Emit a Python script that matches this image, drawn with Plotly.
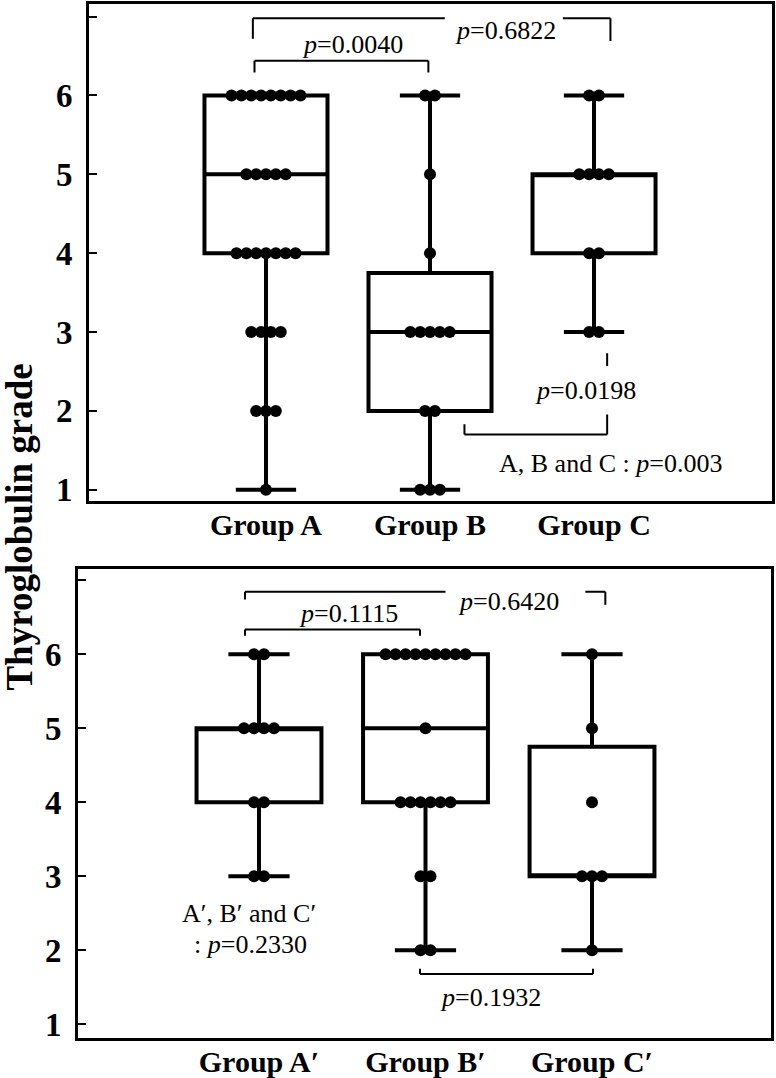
import plotly.graph_objects as go

# ---------------- data ----------------
groups_top = ["Group A", "Group B", "Group C"]
groups_bot = ["Group A′", "Group B′", "Group C′"]
grades = [6, 5, 4, 3, 2, 1]

# number of patients at each grade (order follows `grades`)
counts_top = [
    [8, 5, 7, 4, 3, 1],   # Group A
    [2, 1, 1, 5, 2, 3],   # Group B
    [2, 4, 2, 2, 0, 0],   # Group C
]
counts_bot = [
    [2, 4, 2, 2, 0, 0],   # Group A'
    [9, 1, 6, 2, 2, 0],   # Group B'
    [1, 1, 1, 3, 1, 0],   # Group C'
]

# box statistics
q1_top = [4, 2, 4]
med_top = [5, 3, 5]
q3_top = [6, 3.75, 5]
lo_top = [1, 1, 3]
hi_top = [6, 6, 6]

q1_bot = [4, 4, 3]
med_bot = [5, 5, 3]
q3_bot = [5, 6, 4.75]
lo_bot = [3, 2, 2]
hi_bot = [6, 6, 6]

p_top = ["0.0040", "0.6822", "0.0198", "0.003"]
p_bot = ["0.1115", "0.6420", "0.1932", "0.2330"]

# ---------------- figure ----------------
FONT = "Liberation Serif"
W, H = 776, 1078
fig = go.Figure()

DOT_STEP = 0.06


def add_panel(counts, q1, med, q3, lo, hi, xa, ya):
    for i in range(3):
        fig.add_trace(go.Box(
            x=[i], q1=[q1[i]], median=[med[i]], q3=[q3[i]],
            lowerfence=[lo[i]], upperfence=[hi[i]],
            width=0.75, whiskerwidth=0.49,
            line=dict(color="black", width=4),
            fillcolor="rgba(0,0,0,0)", boxpoints=False,
            showlegend=False, xaxis=xa, yaxis=ya, hoverinfo="skip"))
    xs, ys = [], []
    for i in range(3):
        for g, c in zip(grades, counts[i]):
            for j in range(c):
                xs.append(i + (j - (c - 1) / 2) * DOT_STEP)
                ys.append(g)
    fig.add_trace(go.Scatter(
        x=xs, y=ys, mode="markers",
        marker=dict(color="black", size=12, line=dict(width=0)),
        showlegend=False, xaxis=xa, yaxis=ya, hoverinfo="skip"))


add_panel(counts_top, q1_top, med_top, q3_top, lo_top, hi_top, "x", "y")
add_panel(counts_bot, q1_bot, med_bot, q3_bot, lo_bot, hi_bot, "x2", "y2")

yaxis_common = dict(
    tickvals=[1, 2, 3, 4, 5, 6, 7], ticktext=["1", "2", "3", "4", "5", "6", ""],
    ticks="inside", ticklen=8, tickwidth=2, tickcolor="black",
    showline=True, mirror=True, linewidth=3, linecolor="black",
    showgrid=False, zeroline=False, ticklabelstandoff=7,
    tickfont=dict(family=FONT, size=33, color="black", weight="bold"),
)
xaxis_common = dict(
    tickvals=[0, 1, 2], ticks="",
    showline=True, mirror=True, linewidth=3, linecolor="black",
    showgrid=False, zeroline=False, ticklabelstandoff=-5,
    tickfont=dict(family=FONT, size=30, color="black", weight="bold"),
)

fig.update_layout(
    width=W, height=H, margin=dict(l=0, r=0, t=0, b=0),
    paper_bgcolor="white", plot_bgcolor="white",
    xaxis=dict(xaxis_common, domain=[89 / W, 772 / W], range=[-1.079, 3.085],
               ticktext=groups_top, anchor="y"),
    yaxis=dict(yaxis_common, domain=[(H - 506) / H, (H - 4) / H], range=[0.86, 7.16],
               anchor="x"),
    xaxis2=dict(xaxis_common, domain=[78 / W, 771 / W], range=[-1.087, 3.075],
                ticktext=groups_bot, anchor="y2"),
    yaxis2=dict(yaxis_common, domain=[(H - 1049) / H, (H - 575) / H], range=[0.81, 7.15],
                anchor="x2"),
)

LW = 2


def seg(xa, ya, x0, y0, x1, y1):
    fig.add_shape(type="line", xref=xa, yref=ya, x0=x0, y0=y0, x1=x1, y1=y1,
                  line=dict(color="black", width=LW))


def txt(xa, ya, x, y, s):
    fig.add_annotation(xref=xa, yref=ya, x=x, y=y, text=s, showarrow=False,
                       font=dict(family=FONT, size=26, color="black"))


# top panel brackets
# A–C
seg("x", "y", -0.08, 6.98, 1.09, 6.98)
seg("x", "y", -0.08, 6.98, -0.08, 6.72)
seg("x", "y", 1.81, 6.98, 2.1, 6.98)
seg("x", "y", 2.1, 6.98, 2.1, 6.69)
txt("x", "y", 1.46, 6.82, "<i>p</i>=" + p_top[1])
# A–B
seg("x", "y", -0.07, 6.44, 0.99, 6.44)
seg("x", "y", -0.07, 6.44, -0.07, 6.29)
seg("x", "y", 0.99, 6.44, 0.99, 6.29)
txt("x", "y", 0.53, 6.64, "<i>p</i>=" + p_top[0])
# B–C
seg("x", "y", 1.21, 1.70, 2.08, 1.70)
seg("x", "y", 1.21, 1.70, 1.21, 1.83)
seg("x", "y", 2.08, 1.70, 2.08, 1.955)
seg("x", "y", 2.08, 2.73, 2.08, 2.57)
txt("x", "y", 1.945, 2.26, "<i>p</i>=" + p_top[2])
txt("x", "y", 2.10, 1.33, "A, B and C : <i>p</i>=" + p_top[3])

# bottom panel brackets
# A'–C'
seg("x2", "y2", -0.084, 6.845, 1.12, 6.845)
seg("x2", "y2", -0.084, 6.845, -0.084, 6.74)
seg("x2", "y2", 1.96, 6.845, 2.08, 6.845)
seg("x2", "y2", 2.08, 6.845, 2.08, 6.67)
txt("x2", "y2", 1.50, 6.71, "<i>p</i>=" + p_bot[1])
# A'–B'
seg("x2", "y2", -0.084, 6.335, 0.967, 6.335)
seg("x2", "y2", -0.084, 6.335, -0.084, 6.25)
seg("x2", "y2", 0.967, 6.335, 0.967, 6.25)
txt("x2", "y2", 0.535, 6.55, "<i>p</i>=" + p_bot[0])
# B'–C'
seg("x2", "y2", 0.967, 1.68, 2.006, 1.68)
seg("x2", "y2", 0.967, 1.68, 0.967, 1.75)
seg("x2", "y2", 2.006, 1.68, 2.006, 1.75)
txt("x2", "y2", 1.39, 1.36, "<i>p</i>=" + p_bot[2])
txt("x2", "y2", -0.06, 2.50, "A′, B′ and C′")
txt("x2", "y2", -0.05, 2.08, ": <i>p</i>=" + p_bot[3])

# shared y-axis title
fig.add_annotation(xref="paper", yref="paper", x=20 / W, y=(H - 533) / H,
                   xanchor="center", yanchor="middle",
                   text="<b>Thyroglobulin grade</b>", textangle=-90, showarrow=False,
                   font=dict(family=FONT, size=37, color="black"))

fig.write_html("out.html", config={"displayModeBar": False},
               post_script="document.body.style.margin='0';")
